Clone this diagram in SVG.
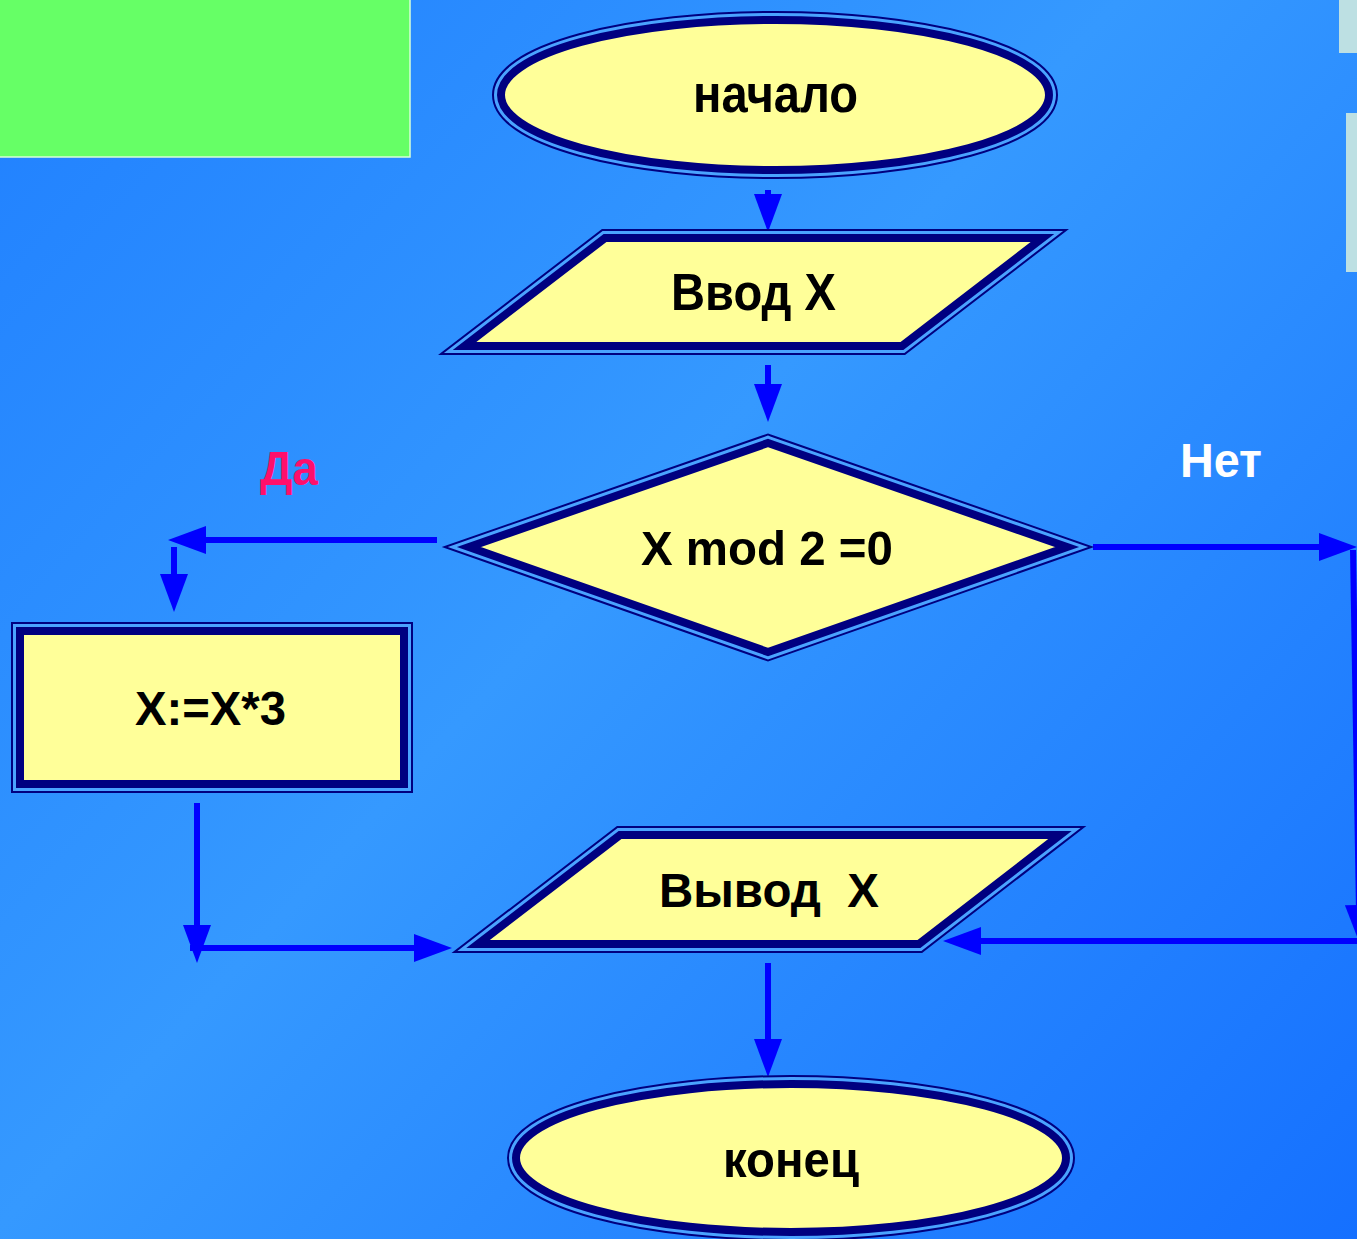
<svg xmlns="http://www.w3.org/2000/svg" width="1357" height="1239" viewBox="0 0 1357 1239">
<defs>
<linearGradient id="bg" x1="0" y1="0" x2="1357" y2="1239" gradientUnits="userSpaceOnUse">
<stop offset="0" stop-color="#2080ff"/>
<stop offset="0.45" stop-color="#3599ff"/>
<stop offset="1" stop-color="#1570ff"/>
</linearGradient>
<marker id="ah" markerUnits="userSpaceOnUse" markerWidth="38" markerHeight="28" viewBox="0 0 38 28" refX="8" refY="14" orient="auto">
<path d="M0,0 L38,14 L0,28 Z" fill="#0000ff"/>
</marker>
<path id="sStart" d="M501,95 A274,75 0 1 0 1049,95 A274,75 0 1 0 501,95 Z"/>
<path id="sInput" d="M605,238 L1042.5,238 L902,346 L464.5,346 Z"/>
<path id="sDec" d="M768,443 L1067,547 L768,652 L469,547 Z"/>
<path id="sProc" d="M20,631 L404,631 L404,784 L20,784 Z"/>
<path id="sOut" d="M620,835 L1060,835 L919,944 L478,944 Z"/>
<path id="sEnd" d="M516,1158 A275,74 0 1 0 1066,1158 A275,74 0 1 0 516,1158 Z"/>
</defs>
<style>
.o1{fill:none;stroke:#000080;stroke-width:18;stroke-linejoin:miter;stroke-miterlimit:10}
.o2{fill:none;stroke:#4aa3ff;stroke-width:14;stroke-linejoin:miter;stroke-miterlimit:10}
.o3{fill:#ffff99;stroke:#000080;stroke-width:8;stroke-linejoin:miter;stroke-miterlimit:10}
.t{font-family:"Liberation Sans",Arial,sans-serif;font-weight:bold;fill:#000000}
.c{fill:none;stroke:#0000ff;stroke-width:6;marker-end:url(#ah)}
.cl{fill:none;stroke:#0000ff;stroke-width:6}
</style>
<rect x="0" y="0" width="1357" height="1239" fill="url(#bg)"/>
<rect x="-2" y="-2" width="412" height="159" fill="#66ff66" stroke="#d8ffd8" stroke-width="1.5"/>
<rect x="1339" y="0" width="18" height="53" fill="#bde0e3"/>
<rect x="1346" y="113" width="11" height="159" fill="#bde0e3"/>

<g id="connectors">
<path class="c" d="M768,190 L768,202" stroke-width="5"/>
<path class="c" d="M768,365 L768,392"/>
<path class="c" d="M437,540 L198,540"/>
<path class="c" d="M174,547 L174,582"/>
<path class="c" d="M1093,547 L1327,547"/>
<path class="c" d="M1353,550 L1359,913"/>
<path class="c" d="M1357,941 L973,941"/>
<path class="c" d="M197,803 L197,933"/>
<path class="c" d="M190,948 L422,948"/>
<path class="c" d="M768,963 L768,1047"/>
</g>

<g id="start">
<use href="#sStart" class="o1"/><use href="#sStart" class="o2"/><use href="#sStart" class="o3"/>
<text class="t" x="693" y="112" font-size="54" textLength="165" lengthAdjust="spacingAndGlyphs">начало</text>
</g>
<g id="input">
<use href="#sInput" class="o1"/><use href="#sInput" class="o2"/><use href="#sInput" class="o3"/>
<text class="t" x="671" y="310" font-size="52" textLength="165" lengthAdjust="spacingAndGlyphs">Ввод X</text>
</g>
<g id="decision">
<use href="#sDec" class="o1"/><use href="#sDec" class="o2"/><use href="#sDec" class="o3"/>
<text class="t" x="641" y="565" font-size="49" textLength="252" lengthAdjust="spacingAndGlyphs">X mod 2 =0</text>
</g>
<g id="process">
<use href="#sProc" class="o1"/><use href="#sProc" class="o2"/><use href="#sProc" class="o3"/>
<text class="t" x="135" y="725" font-size="48" textLength="151" lengthAdjust="spacingAndGlyphs">X:=X*3</text>
</g>
<g id="output">
<use href="#sOut" class="o1"/><use href="#sOut" class="o2"/><use href="#sOut" class="o3"/>
<text class="t" x="659" y="907" font-size="48" textLength="220" lengthAdjust="spacingAndGlyphs" xml:space="preserve">Вывод  X</text>
</g>
<g id="end">
<use href="#sEnd" class="o1"/><use href="#sEnd" class="o2"/><use href="#sEnd" class="o3"/>
<text class="t" x="723" y="1177" font-size="50" textLength="136" lengthAdjust="spacingAndGlyphs">конец</text>
</g>
<g id="labels">
<text class="t" x="260" y="485" font-size="49" textLength="58" lengthAdjust="spacingAndGlyphs" style="fill:#ff0f6b">Да</text>
<text class="t" x="1180" y="477" font-size="48" textLength="82" lengthAdjust="spacingAndGlyphs" style="fill:#ffffff">Нет</text>
</g>
</svg>
